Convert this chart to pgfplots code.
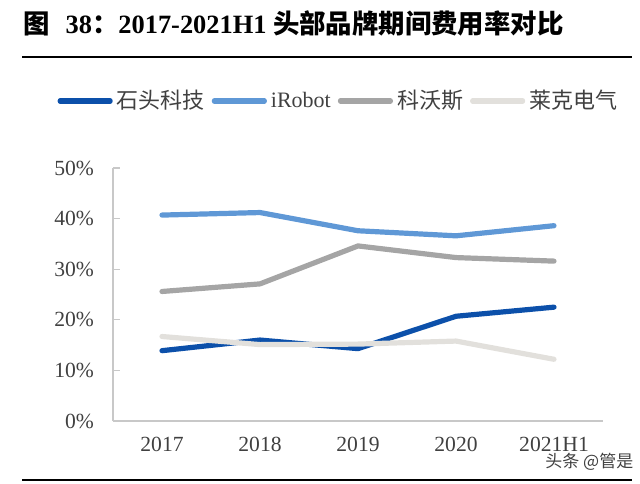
\documentclass[border=0pt]{standalone}
\usepackage{fontspec}
\setmainfont{Liberation Serif}
\newfontfamily\cjk{Noto Sans CJK SC}
\usepackage{pgfplots}
\pgfplotsset{compat=1.18}
\definecolor{cShi}{RGB}{12,80,170}
\definecolor{cIRo}{RGB}{95,152,214}
\definecolor{cKe}{RGB}{165,165,165}
\definecolor{cLai}{RGB}{226,224,220}
\definecolor{tickc}{RGB}{64,64,64}
\definecolor{axc}{RGB}{200,200,200}
\begin{document}
\begin{tikzpicture}
\begin{scope}[x=0.5pt,y=0.5pt]
\path[use as bounding box] (0,0) rectangle (640,483);
\node[anchor=west,inner sep=0] at (23,460) {\fontsize{13.2}{15}\selectfont\bfseries{\cjk 图}\hspace{0.6em}38{\cjk ：}2017-2021H1 {\cjk 头部品牌期间费用率对比}};
\draw[line width=1.1pt] (22,426) -- (632,426);
\draw[line width=1.1pt] (22,3) -- (632,3);
\node[anchor=west,inner sep=0,text=black!75] at (545,21) {\fontsize{8.5}{10}\selectfont{\cjk 头条 @管是}};
\end{scope}
\begin{axis}[
  at={(56.5pt,31pt)}, anchor=south west, scale only axis,
  width=245pt, height=126.5pt,
  xmin=-0.5, xmax=4.5, ymin=0, ymax=50,
  axis x line*=bottom, axis y line*=left,
  axis line style={draw=axc, line width=0.6pt},
  xtick={0,1,2,3,4}, xticklabels={2017,2018,2019,2020,2021H1},
  ytick={0,10,20,30,40,50}, yticklabels={0\%,10\%,20\%,30\%,40\%,50\%},
  x tick style={draw=none},
  y tick style={draw=axc, line width=0.6pt},
  tick align=inside, major tick length=3.5pt,
  ticklabel style={font=\fontsize{10.8}{12}\selectfont, text=tickc},
  yticklabel style={xshift=-6pt},
  xticklabel style={yshift=-4.5pt},
  legend columns=4,
  legend style={at={(axis description cs:-0.114,1.265)}, anchor=west, draw=none, fill=none,
    font=\fontsize{11}{13}\selectfont, text=tickc, inner xsep=0pt,
    /tikz/every even column/.append style={column sep=1.5pt}},
  legend image code/.code={\draw[#1,line cap=round] (0pt,0pt) -- (25pt,0pt);},
  every axis plot/.append style={line width=2.6pt, line join=round, line cap=round},
  clip=false,
]
\addplot[color=cShi] coordinates {(0,13.9) (1,16.0) (2,14.3) (3,20.7) (4,22.5)};
\addlegendentry{{\cjk 石头科技}}
\addplot[color=cIRo] coordinates {(0,40.7) (1,41.2) (2,37.6) (3,36.6) (4,38.6)};
\addlegendentry{iRobot}
\addplot[color=cKe] coordinates {(0,25.6) (1,27.1) (2,34.6) (3,32.3) (4,31.6)};
\addlegendentry{{\cjk 科沃斯}}
\addplot[color=cLai] coordinates {(0,16.7) (1,15.1) (2,15.2) (3,15.8) (4,12.2)};
\addlegendentry{{\cjk 莱克电气}}
\end{axis}
\end{tikzpicture}
\end{document}
